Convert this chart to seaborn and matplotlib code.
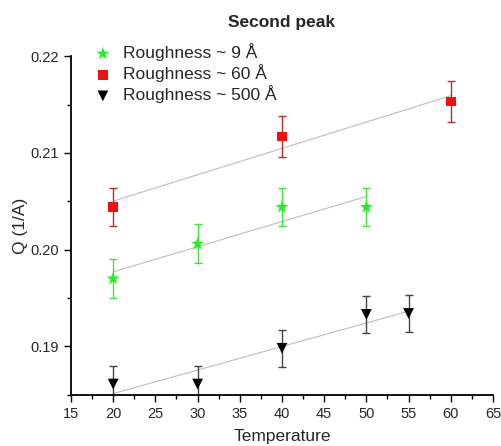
import matplotlib
matplotlib.use("Agg")
import matplotlib.pyplot as plt
from matplotlib.ticker import MultipleLocator, FormatStrFormatter
import seaborn as sns
import numpy as np

# values
temp_9 = [20, 30, 40, 50]
q_9 = [0.1970, 0.2006, 0.2044, 0.2044]
err_9 = [0.0020, 0.0020, 0.0020, 0.0020]

temp_60 = [20, 40, 60]
q_60 = [0.2044, 0.2117, 0.2153]
err_60 = [0.0020, 0.0021, 0.0021]

temp_500 = [20, 30, 40, 50, 55]
q_500 = [0.1861, 0.1861, 0.1898, 0.1933, 0.1934]
err_500 = [0.0019, 0.0019, 0.0019, 0.0019, 0.0019]

labels = ["Roughness ~ 9 Å", "Roughness ~ 60 Å", "Roughness ~ 500 Å"]

sns.set_style("ticks")
plt.rcParams["font.family"] = ["Liberation Sans", "DejaVu Sans"]

fig = plt.figure(figsize=(5.02, 4.46), dpi=100)
ax = fig.add_axes([0.1414, 0.115, 0.8406, 0.759])

series = [
    (temp_9, q_9, err_9, "*", "#22ee22", "#44dd44", 100, labels[0]),
    (temp_60, q_60, err_60, "s", "#ee1111", "#b03030", 48, labels[1]),
    (temp_500, q_500, err_500, "v", "black", "#444444", 60, labels[2]),
]

for x, y, e, m, col, ecol, size, lab in series:
    # linear fit over the data range
    sns.regplot(x=np.array(x), y=np.array(y), ax=ax, scatter=False, ci=None,
                truncate=True, line_kws=dict(color="#bdbdbd", lw=0.8, zorder=1))
    ax.errorbar(x, y, yerr=e, fmt="none", ecolor=ecol, elinewidth=1.0,
                capsize=3, capthick=1.0, zorder=2)
    sns.scatterplot(x=x, y=y, ax=ax, marker=m, color=col, s=size,
                    edgecolor="none", label=lab, zorder=3)

ax.set_xlim(15, 65)
ax.set_ylim(0.185, 0.22)
ax.xaxis.set_major_locator(MultipleLocator(5))
ax.xaxis.set_minor_locator(MultipleLocator(2.5))
ax.yaxis.set_major_locator(MultipleLocator(0.01))
ax.yaxis.set_minor_locator(MultipleLocator(0.005))
ax.yaxis.set_major_formatter(FormatStrFormatter("%.2f"))

ax.tick_params(which="major", direction="out", length=5, width=1.0,
               labelsize=10.5, color="black")
ax.tick_params(which="minor", direction="out", length=3, width=1.0,
               color="black")
sns.despine(ax=ax)
for s in ["left", "bottom"]:
    ax.spines[s].set_linewidth(1.3)
    ax.spines[s].set_color("black")

ax.set_xlabel("Temperature", fontsize=12.5, labelpad=6)
ax.set_ylabel("Q (1/A)", fontsize=12.5, labelpad=1.5)
ax.set_title("Second peak", fontsize=12.5, fontweight="bold", pad=21)

ax.legend(loc="upper left", bbox_to_anchor=(0.055, 1.038), frameon=False,
          fontsize=12.5, borderpad=0, borderaxespad=0, handlelength=1.0,
          handletextpad=0.65, labelspacing=0.18)

fig.savefig("out.png", dpi=100)
